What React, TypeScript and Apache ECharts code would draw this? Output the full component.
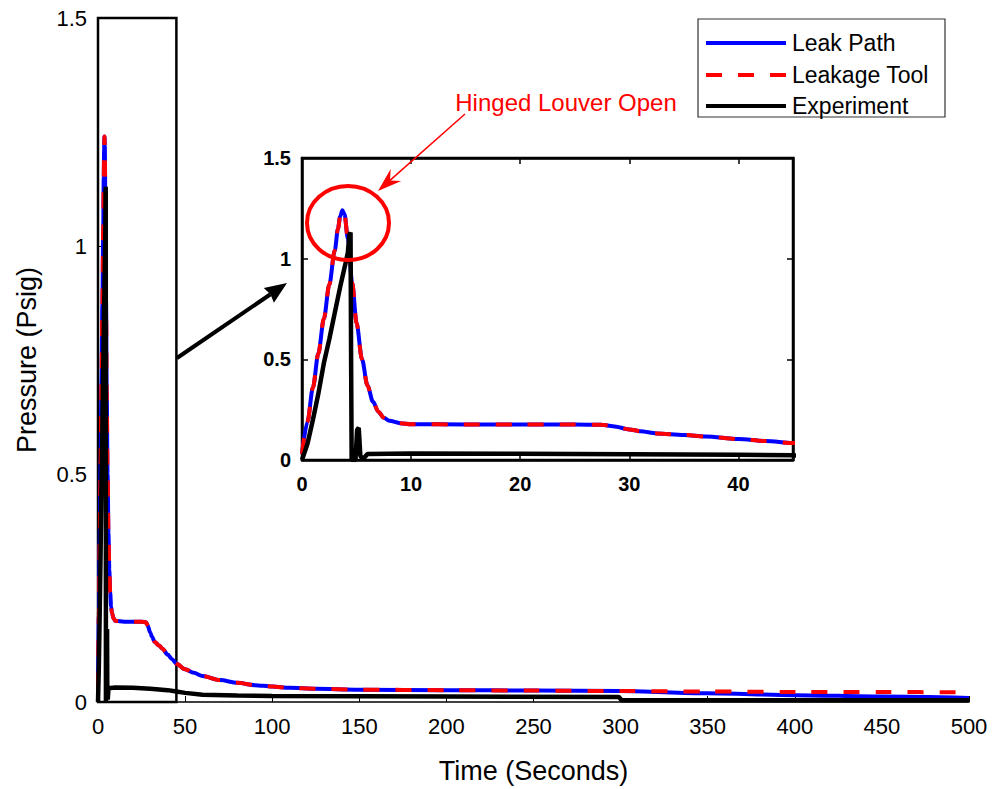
import React, { useEffect, useRef } from "react";
import * as echarts from "echarts";

// ---- Data (time in seconds, pressure in psig) ----
const leakPath: [number, number][] = [
  [0, 0.03], [0.5, 0.19], [1, 0.36], [1.5, 0.53], [2, 0.7], [2.5, 0.87], [3, 1.04],
  [3.3, 1.15], [3.5, 1.21], [3.7, 1.24], [3.9, 1.22], [4.2, 1.1], [4.6, 0.88],
  [5.0, 0.68], [5.5, 0.5], [6.0, 0.37], [6.5, 0.29], [7.0, 0.24], [7.5, 0.21],
  [8.0, 0.195], [9.0, 0.183], [10, 0.178], [15, 0.176], [20, 0.176], [25, 0.176],
  [27.5, 0.175], [28.5, 0.168], [30, 0.152], [31, 0.143], [32.5, 0.132], [35, 0.124],
  [37, 0.117], [40, 0.104], [42.5, 0.094], [45, 0.084], [50, 0.072], [55, 0.064],
  [60, 0.057], [70, 0.048], [80, 0.042], [90, 0.037], [100, 0.034], [110, 0.031],
  [125, 0.029], [150, 0.027], [200, 0.026], [250, 0.025], [300, 0.024], [350, 0.019],
  [400, 0.015], [450, 0.012], [500, 0.009],
];

const leakageTool: [number, number][] = [
  [0, 0.03], [0.5, 0.19], [1, 0.36], [1.5, 0.53], [2, 0.7], [2.5, 0.87], [3, 1.04],
  [3.3, 1.15], [3.5, 1.21], [3.7, 1.24], [3.9, 1.22], [4.2, 1.1], [4.6, 0.88],
  [5.0, 0.68], [5.5, 0.5], [6.0, 0.37], [6.5, 0.29], [7.0, 0.24], [7.5, 0.21],
  [8.0, 0.195], [9.0, 0.183], [10, 0.178], [15, 0.176], [20, 0.176], [25, 0.176],
  [27.5, 0.175], [28.5, 0.168], [30, 0.152], [31, 0.143], [32.5, 0.132], [35, 0.124],
  [37, 0.117], [40, 0.104], [42.5, 0.094], [45, 0.084], [50, 0.072], [55, 0.064],
  [60, 0.057], [70, 0.048], [80, 0.042], [90, 0.037], [100, 0.034], [110, 0.031],
  [125, 0.029], [150, 0.027], [200, 0.026], [250, 0.025], [300, 0.024], [350, 0.023],
  [400, 0.022], [450, 0.022], [500, 0.021],
];

const experiment: [number, number][] = [
  [0, 0.0], [0.5, 0.08], [1, 0.2], [1.5, 0.33], [2, 0.48], [2.5, 0.6], [3, 0.73],
  [3.5, 0.86], [4.0, 0.98], [4.2, 1.03], [4.35, 1.12], [4.45, 1.13], [4.5, 0.5],
  [4.55, 0.0], [4.9, 0.0], [5.05, 0.15], [5.2, 0.16], [5.35, 0.02], [5.6, 0.005],
  [6.0, 0.03], [10, 0.032], [20, 0.031], [30, 0.029], [40, 0.026], [45, 0.023],
  [50, 0.02], [60, 0.016], [80, 0.014], [100, 0.013], [200, 0.012], [299, 0.011],
  [300.5, 0.004], [400, 0.004], [500, 0.004],
];

const seriesNames = ["Leak Path", "Leakage Tool", "Experiment"];
const annotationText = "Hinged Louver Open";
const xTitle = "Time (Seconds)";
const yTitle = "Pressure (Psig)";

const FONT = "'Liberation Sans', Arial, Helvetica, sans-serif";

export default function App() {
  const ref = useRef<HTMLDivElement>(null);

  useEffect(() => {
    if (!ref.current) return;
    const chart = echarts.init(ref.current, undefined, { renderer: "svg" });

    const blue = "#0000ff";
    const red = "#ff0000";
    const black = "#000000";

    const mainAxisCommon = {
      type: "value" as const,
      axisLine: { show: true, onZero: false, lineStyle: { color: black, width: 1.5 } },
      axisTick: { show: true, inside: true, length: 6, lineStyle: { color: black, width: 1 } },
      splitLine: { show: false },
    };

    const insetAxisCommon = {
      type: "value" as const,
      axisLine: { show: true, onZero: false, lineStyle: { color: black, width: 2.5 } },
      axisTick: { show: true, inside: true, length: 6, lineStyle: { color: black, width: 1.5 } },
      splitLine: { show: false },
    };

    const mkSeries = (xi: number, yi: number, withBox: boolean) => [
      {
        name: seriesNames[0],
        type: "line",
        xAxisIndex: xi,
        yAxisIndex: yi,
        data: leakPath,
        symbol: "none",
        smooth: 0.3,
        smoothMonotone: "x",
        lineStyle: { color: blue, width: 4 },
        z: 2,
        ...(withBox
          ? {
              markArea: {
                silent: true,
                itemStyle: { color: "rgba(0,0,0,0)", borderColor: black, borderWidth: 2.5 },
                data: [[{ coord: [0, 0] }, { coord: [45, 1.5] }]],
              },
            }
          : {}),
      },
      {
        name: seriesNames[1],
        type: "line",
        xAxisIndex: xi,
        yAxisIndex: yi,
        data: leakageTool,
        symbol: "none",
        smooth: 0.3,
        smoothMonotone: "x",
        lineStyle: { color: red, width: 4, type: [16, 16] },
        z: 3,
      },
      {
        name: seriesNames[2],
        type: "line",
        xAxisIndex: xi,
        yAxisIndex: yi,
        data: experiment,
        symbol: "none",
        lineStyle: { color: black, width: 4.5 },
        z: 4,
      },
    ];

    // arrow geometry helper (annotation only)
    const arrowHead = (tx: number, ty: number, fx: number, fy: number, len: number, half: number, notch: number) => {
      const dx = tx - fx, dy = ty - fy;
      const L = Math.hypot(dx, dy);
      const ux = dx / L, uy = dy / L;
      const px = -uy, py = ux;
      const bx = tx - len * ux, by = ty - len * uy;
      const nx = tx - notch * ux, ny = ty - notch * uy;
      return {
        points: [
          [tx, ty],
          [bx + half * px, by + half * py],
          [nx, ny],
          [bx - half * px, by - half * py],
        ],
        base: [nx, ny],
      };
    };

    const blackArrow = arrowHead(287, 283, 177, 358, 22, 9, 20);
    const redArrow = arrowHead(378, 191, 465, 114, 24, 8, 16);

    const option: any = {
      animation: false,
      backgroundColor: "#ffffff",
      grid: [
        { left: 98, top: 18, width: 871, height: 685 },
        {
          left: 302, top: 158, width: 491, height: 302,
          show: true, backgroundColor: "#ffffff", borderColor: black, borderWidth: 2.5,
        },
      ],
      xAxis: [
        {
          ...mainAxisCommon,
          gridIndex: 0, min: 0, max: 500, interval: 50,
          axisLabel: { color: black, fontSize: 22, fontFamily: FONT, margin: 13 },
          name: xTitle, nameLocation: "middle", nameGap: 55,
          nameTextStyle: { color: black, fontSize: 27, fontFamily: FONT },
        },
        {
          ...insetAxisCommon,
          gridIndex: 1, min: 0, max: 45, interval: 10,
          axisLabel: {
            color: black, fontSize: 20, fontWeight: "bold", fontFamily: FONT, margin: 14,
            showMaxLabel: false,
          },
        },
        {
          ...insetAxisCommon,
          gridIndex: 1, min: 0, max: 45, interval: 10, position: "top",
          axisLabel: { show: false },
        },
      ],
      yAxis: [
        {
          ...mainAxisCommon,
          gridIndex: 0, min: 0, max: 1.5, interval: 0.5,
          axisLabel: { color: black, fontSize: 22, fontFamily: FONT, margin: 11 },
          name: yTitle, nameLocation: "middle", nameGap: 58,
          nameTextStyle: { color: black, fontSize: 27, fontFamily: FONT },
        },
        {
          ...insetAxisCommon,
          gridIndex: 1, min: 0, max: 1.5, interval: 0.5,
          axisLabel: { color: black, fontSize: 20, fontWeight: "bold", fontFamily: FONT, margin: 11 },
        },
        {
          ...insetAxisCommon,
          gridIndex: 1, min: 0, max: 1.5, interval: 0.5, position: "right",
          axisLabel: { show: false },
        },
      ],
      series: [...mkSeries(0, 0, true), ...mkSeries(1, 1, false)],
      graphic: [
        // zoom arrow (black)
        {
          type: "line", z: 100,
          shape: { x1: 177, y1: 358, x2: blackArrow.base[0], y2: blackArrow.base[1] },
          style: { stroke: black, lineWidth: 4 },
        },
        { type: "polygon", z: 100, shape: { points: blackArrow.points }, style: { fill: black } },
        // red ellipse around peak
        {
          type: "ellipse", z: 100,
          shape: { cx: 348, cy: 223, rx: 41, ry: 37 },
          style: { fill: "none", stroke: red, lineWidth: 4 },
        },
        // red arrow
        {
          type: "line", z: 100,
          shape: { x1: 465, y1: 114, x2: redArrow.base[0], y2: redArrow.base[1] },
          style: { stroke: red, lineWidth: 1.5 },
        },
        { type: "polygon", z: 100, shape: { points: redArrow.points }, style: { fill: red } },
        {
          type: "text", z: 100, x: 566, y: 102,
          style: {
            text: annotationText, fill: red, fontSize: 24, fontFamily: FONT,
            textAlign: "center", textVerticalAlign: "middle",
          },
        },
        // legend
        {
          type: "rect", z: 100,
          shape: { x: 698, y: 19, width: 247, height: 98 },
          style: { fill: "#ffffff", stroke: "#333333", lineWidth: 1.2 },
        },
        {
          type: "line", z: 101,
          shape: { x1: 706, y1: 43, x2: 786, y2: 43 },
          style: { stroke: blue, lineWidth: 4 },
        },
        {
          type: "line", z: 101,
          shape: { x1: 706, y1: 75, x2: 786, y2: 75 },
          style: { stroke: red, lineWidth: 4, lineDash: [16, 16] },
        },
        {
          type: "line", z: 101,
          shape: { x1: 706, y1: 106, x2: 786, y2: 106 },
          style: { stroke: black, lineWidth: 4 },
        },
        ...seriesNames.map((n, i) => ({
          type: "text", z: 101, x: 792, y: 43 + i * 31.5,
          style: {
            text: n, fill: black, fontSize: 23, fontFamily: FONT,
            textAlign: "left", textVerticalAlign: "middle",
          },
        })),
      ],
    };

    chart.setOption(option);
    return () => chart.dispose();
  }, []);

  return (
    <div
      ref={ref}
      style={{ position: "fixed", left: 0, top: 0, width: 992, height: 789, background: "#fff" }}
    />
  );
}
